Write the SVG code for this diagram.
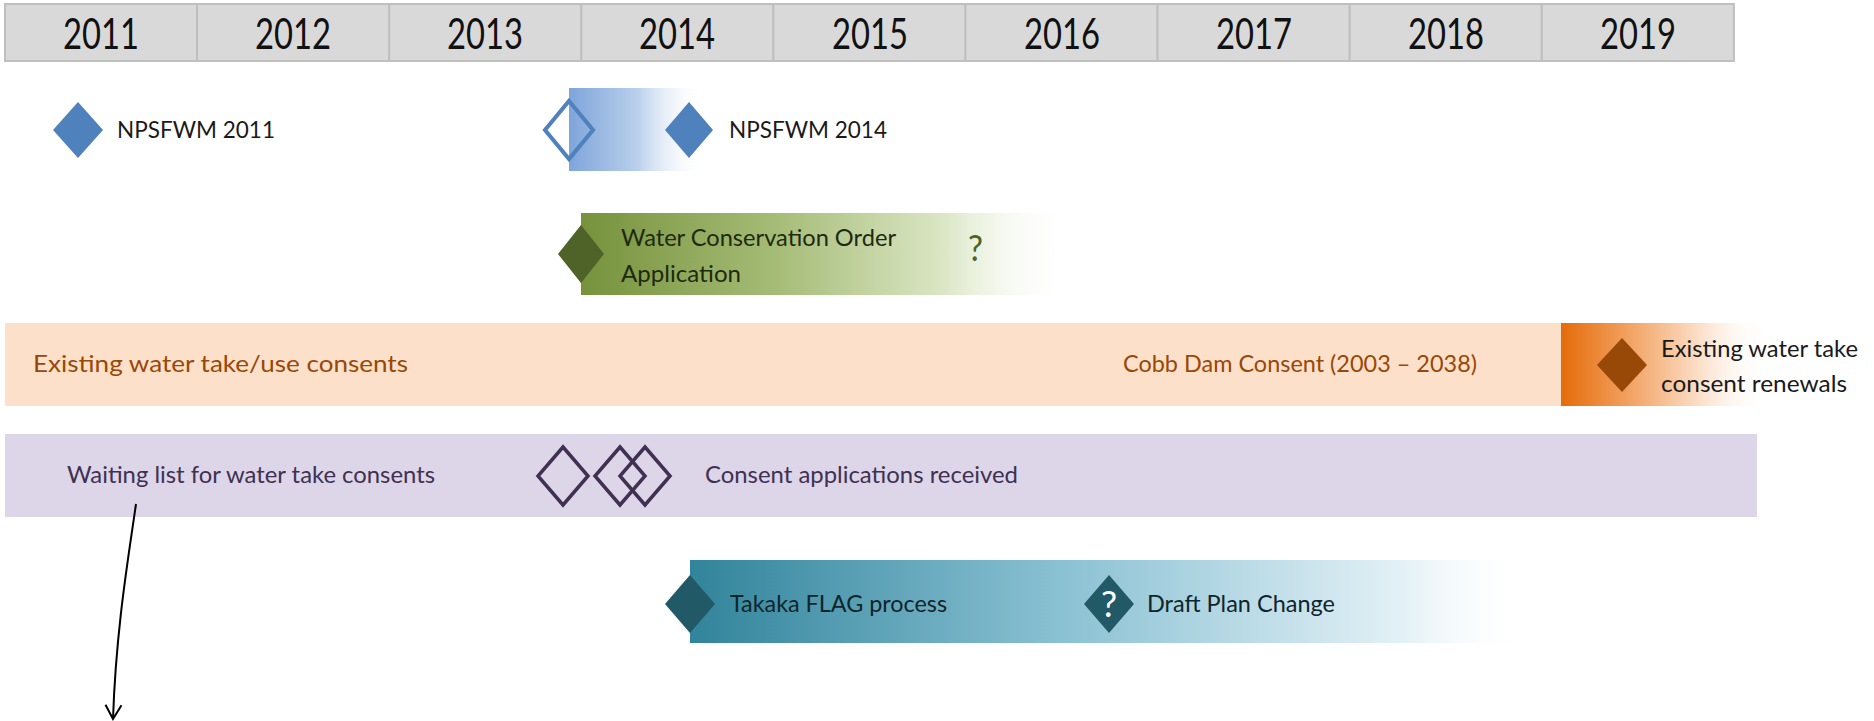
<svg xmlns="http://www.w3.org/2000/svg" width="1874" height="721" viewBox="0 0 1874 721">
<style>
.yr{font-family:Lato,"Liberation Sans",sans-serif;font-size:42px;fill:#111;text-anchor:middle}
.lb{font-family:Lato,"Liberation Sans",sans-serif;font-size:24px}
.cell{fill:#D9D9D9;stroke:#BFBFBF;stroke-width:2}
.blue{fill:#4F81BD}
.blueo{fill:none;stroke:#4F81BD;stroke-width:4}
.purpo{fill:none;stroke:#403152;stroke-width:3.5}
.conn{fill:none;stroke:#000;stroke-width:2}
</style>
<defs>
<linearGradient id="gBlue" x1="0" x2="1" y1="0" y2="0">
<stop offset="0" stop-color="#7EA5DA"/><stop offset="0.5" stop-color="#B9CFEC"/><stop offset="1" stop-color="#FFFFFF" stop-opacity="0"/>
</linearGradient>
<linearGradient id="gGreen" x1="0" x2="1" y1="0" y2="0">
<stop offset="0" stop-color="#76923C"/><stop offset="0.4" stop-color="#A5BC76"/><stop offset="0.75" stop-color="#DCE7C7"/><stop offset="1" stop-color="#FFFFFF" stop-opacity="0"/>
</linearGradient>
<linearGradient id="gOrange" x1="0" x2="1" y1="0" y2="0">
<stop offset="0" stop-color="#E46C0A"/><stop offset="0.3" stop-color="#F19D5A"/><stop offset="0.65" stop-color="#FBDCC3"/><stop offset="1" stop-color="#FFFFFF" stop-opacity="0"/>
</linearGradient>
<linearGradient id="gTeal" x1="0" x2="1" y1="0" y2="0">
<stop offset="0" stop-color="#31849B"/><stop offset="0.45" stop-color="#8CC2D4"/><stop offset="0.85" stop-color="#E3F1F6"/><stop offset="1" stop-color="#FFFFFF" stop-opacity="0"/>
</linearGradient>
<marker id="arr" viewBox="0 0 20 20" refX="18" refY="10" markerWidth="20" markerHeight="20" markerUnits="userSpaceOnUse" orient="auto">
<path d="M4,2 L18,10 L4,18" fill="none" stroke="#000" stroke-width="2"/>
</marker>
</defs>
<rect width="1874" height="721" fill="#FFFFFF"/>

<g id="timeline-header">
<rect class="cell" x="5" y="4" width="192.1" height="57"/>
<rect class="cell" x="197.1" y="4" width="192.1" height="57"/>
<rect class="cell" x="389.2" y="4" width="192.1" height="57"/>
<rect class="cell" x="581.3" y="4" width="192.1" height="57"/>
<rect class="cell" x="773.4" y="4" width="192.1" height="57"/>
<rect class="cell" x="965.5" y="4" width="192.1" height="57"/>
<rect class="cell" x="1157.6" y="4" width="192.1" height="57"/>
<rect class="cell" x="1349.7" y="4" width="192.1" height="57"/>
<rect class="cell" x="1541.8" y="4" width="192.1" height="57"/>
<text class="yr" x="101" y="49" textLength="76" lengthAdjust="spacingAndGlyphs">2011</text>
<text class="yr" x="293" y="49" textLength="76" lengthAdjust="spacingAndGlyphs">2012</text>
<text class="yr" x="485" y="49" textLength="76" lengthAdjust="spacingAndGlyphs">2013</text>
<text class="yr" x="677" y="49" textLength="76" lengthAdjust="spacingAndGlyphs">2014</text>
<text class="yr" x="870" y="49" textLength="76" lengthAdjust="spacingAndGlyphs">2015</text>
<text class="yr" x="1062" y="49" textLength="76" lengthAdjust="spacingAndGlyphs">2016</text>
<text class="yr" x="1254" y="49" textLength="76" lengthAdjust="spacingAndGlyphs">2017</text>
<text class="yr" x="1446" y="49" textLength="76" lengthAdjust="spacingAndGlyphs">2018</text>
<text class="yr" x="1638" y="49" textLength="76" lengthAdjust="spacingAndGlyphs">2019</text>
</g>

<g id="npsfwm-2011">
<polygon class="blue" points="78,102 103,130 78,158 53,130"/>
<text class="lb" x="117" y="138" fill="#1A1A1A" textLength="158" lengthAdjust="spacingAndGlyphs">NPSFWM 2011</text>
</g>

<g id="npsfwm-2014">
<rect x="569" y="88" width="136" height="83" fill="url(#gBlue)"/>
<polygon class="blueo" points="569,101 593,130 569,159 545,130"/>
<polygon class="blue" points="689,102 713,130 689,158 665,130"/>
<text class="lb" x="729" y="138" fill="#1A1A1A" textLength="158" lengthAdjust="spacingAndGlyphs">NPSFWM 2014</text>
</g>

<g id="water-conservation-order">
<rect x="581" y="213" width="487" height="82" fill="url(#gGreen)"/>
<polygon points="581,225 604,254 581,283 558,254" fill="#4F6228"/>
<text class="lb" x="621" y="246" fill="#1E2A0E" textLength="275" lengthAdjust="spacingAndGlyphs">Water Conservation Order</text>
<text class="lb" x="621" y="282" fill="#1E2A0E" textLength="120" lengthAdjust="spacingAndGlyphs">Application</text>
<text x="968" y="261" font-family="Lato,'Liberation Sans',sans-serif" font-size="36" fill="#4F6228" textLength="15" lengthAdjust="spacingAndGlyphs">?</text>
</g>

<g id="existing-consents">
<rect x="5" y="323" width="1556" height="83" fill="#FDE0CA"/>
<text class="lb" x="33" y="372" fill="#984807" textLength="375" lengthAdjust="spacingAndGlyphs">Existing water take/use consents</text>
<text class="lb" x="1123" y="372" fill="#984807" textLength="354" lengthAdjust="spacingAndGlyphs">Cobb Dam Consent (2003 – 2038)</text>
</g>

<g id="consent-renewals">
<rect x="1561" y="323" width="208" height="83" fill="url(#gOrange)"/>
<polygon points="1622,338 1647,365 1622,392 1597,365" fill="#984807"/>
<text class="lb" x="1661" y="357" fill="#1A1A1A" textLength="197" lengthAdjust="spacingAndGlyphs">Existing water take</text>
<text class="lb" x="1661" y="392" fill="#1A1A1A" textLength="186" lengthAdjust="spacingAndGlyphs">consent renewals</text>
</g>

<g id="waiting-list">
<rect x="5" y="434" width="1752" height="83" fill="#DDD5E8"/>
<text class="lb" x="67" y="483" fill="#403152" textLength="368" lengthAdjust="spacingAndGlyphs">Waiting list for water take consents</text>
</g>

<g id="consent-applications">
<polygon class="purpo" points="563,447 588,476 563,505 538,476"/>
<polygon class="purpo" points="620,447 645,476 620,505 595,476"/>
<polygon class="purpo" points="645,447 670,476 645,505 620,476"/>
<text class="lb" x="705" y="483" fill="#403152" textLength="313" lengthAdjust="spacingAndGlyphs">Consent applications received</text>
</g>

<g id="takaka-flag">
<rect x="690" y="560" width="840" height="83" fill="url(#gTeal)"/>
<polygon points="690,575 715,604 690,633 665,604" fill="#215967"/>
<text class="lb" x="730" y="612" fill="#10252B" textLength="217" lengthAdjust="spacingAndGlyphs">Takaka FLAG process</text>
</g>

<g id="draft-plan-change">
<polygon points="1109,575 1134,604 1109,633 1084,604" fill="#215967"/>
<text x="1109" y="617" font-family="Lato,'Liberation Sans',sans-serif" font-size="36" fill="#FFFFFF" text-anchor="middle">?</text>
<text class="lb" x="1147" y="612" fill="#10252B" textLength="188" lengthAdjust="spacingAndGlyphs">Draft Plan Change</text>
</g>

<g id="connectors">
<path class="conn" d="M136,504 C128,560 116,630 113,719" marker-end="url(#arr)"/>
</g>
</svg>
